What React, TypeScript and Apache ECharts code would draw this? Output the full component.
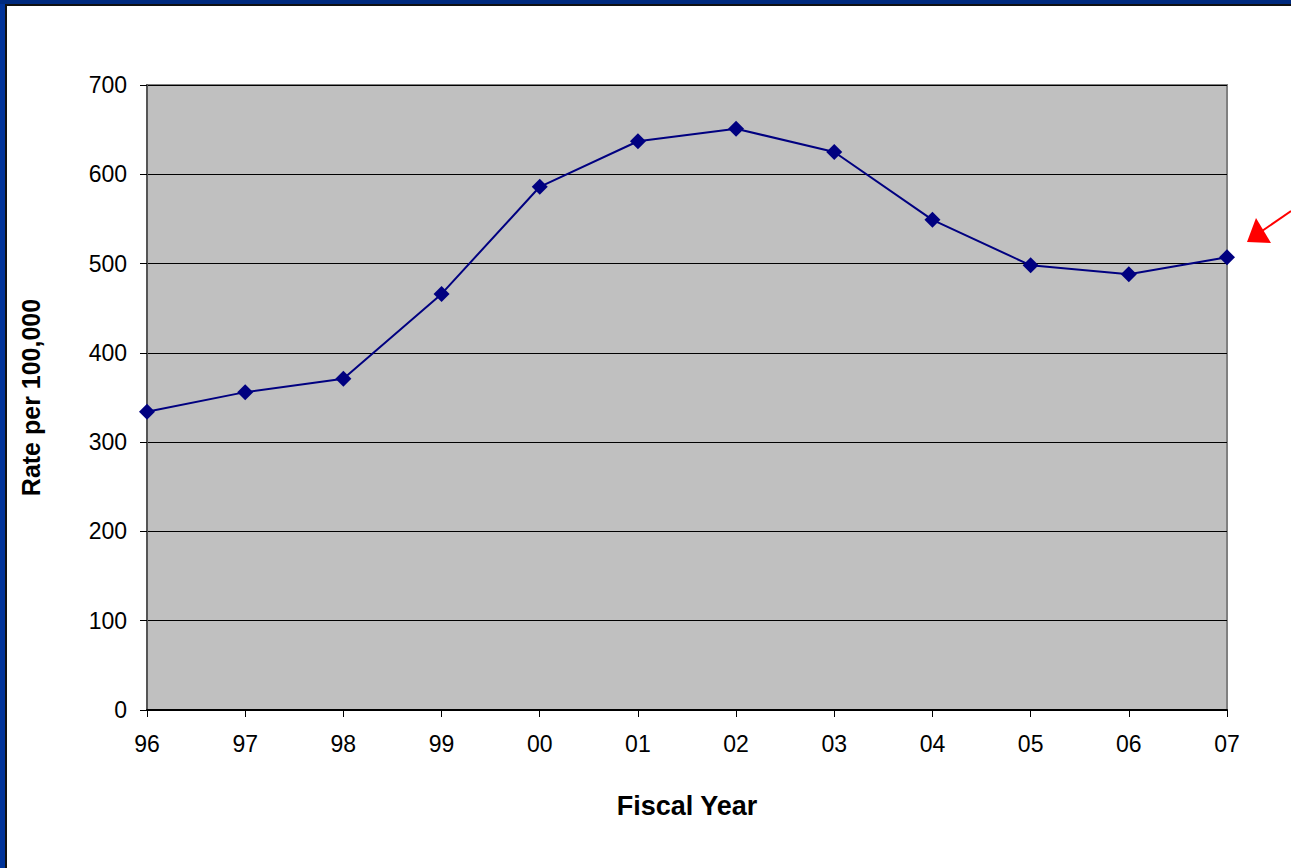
import React, { useEffect, useRef } from "react";
import * as echarts from "echarts";

const years = ["96", "97", "98", "99", "00", "01", "02", "03", "04", "05", "06", "07"];
const rates = [334, 356, 371, 466, 586, 637, 651, 625, 549, 498, 488, 507];
const yTicks = { min: 0, max: 700, interval: 100 };
const xTitle = "Fiscal Year";
const yTitle = "Rate per 100,000";

export default function App() {
  const ref = useRef<HTMLDivElement>(null);
  useEffect(() => {
    if (!ref.current) return;
    const chart = echarts.init(ref.current, undefined, { renderer: "svg" });
    const font = "'Liberation Sans', Arial, sans-serif";
    chart.setOption({
      animation: false,
      backgroundColor: "#ffffff",
      grid: {
        left: 147,
        right: 64,
        top: 85,
        bottom: 158,
        show: true,
        backgroundColor: "#C0C0C0",
        borderColor: "#808080",
        borderWidth: 2,
      },
      xAxis: {
        type: "category",
        data: years,
        boundaryGap: false,
        name: xTitle,
        nameLocation: "middle",
        nameGap: 82,
        nameTextStyle: { fontFamily: font, fontSize: 27, fontWeight: "bold", color: "#000" },
        axisLine: { show: true, lineStyle: { color: "#000", width: 2 } },
        axisTick: { show: true, inside: false, length: 7, lineStyle: { color: "#000" }, alignWithLabel: true },
        axisLabel: { fontFamily: font, fontSize: 23, color: "#000", margin: 22 },
        splitLine: { show: false },
      },
      yAxis: {
        type: "value",
        min: yTicks.min,
        max: yTicks.max,
        interval: yTicks.interval,
        name: yTitle,
        nameLocation: "middle",
        nameGap: 104,
        nameRotate: 90,
        nameTextStyle: { fontFamily: font, fontSize: 25, fontWeight: "bold", color: "#000" },
        axisLine: { show: true, lineStyle: { color: "#555", width: 2 } },
        axisTick: { show: true, inside: false, length: 7, lineStyle: { color: "#000" } },
        axisLabel: { fontFamily: font, fontSize: 23, color: "#000", margin: 20 },
        splitLine: { show: true, lineStyle: { color: "#000", width: 1 } },
      },
      series: [
        {
          type: "line",
          data: rates,
          symbol: "diamond",
          symbolSize: 16,
          lineStyle: { color: "#000080", width: 2 },
          itemStyle: { color: "#000080" },
        },
      ],
      graphic: [
        { type: "rect", shape: { x: 0, y: 0, width: 6, height: 868 }, style: { fill: "#003399" }, z: 100 },
        { type: "rect", shape: { x: 0, y: 0, width: 1291, height: 4 }, style: { fill: "#002a7e" }, z: 100 },
        { type: "rect", shape: { x: 5, y: 4, width: 1286, height: 2 }, style: { fill: "#111111" }, z: 101 },
        { type: "rect", shape: { x: 5, y: 4, width: 2, height: 864 }, style: { fill: "#111111" }, z: 101 },
        {
          type: "line",
          shape: { x1: 1291, y1: 211, x2: 1262, y2: 231 },
          style: { stroke: "#ff0000", lineWidth: 2 },
          z: 100,
        },
        {
          type: "polygon",
          shape: { points: [[1247, 242], [1256, 218], [1271, 243]] },
          style: { fill: "#ff0000" },
          z: 100,
        },
      ],
    });
    return () => chart.dispose();
  }, []);
  return (
    <div
      ref={ref}
      style={{ position: "absolute", left: 0, top: 0, width: 1291, height: 868 }}
    />
  );
}
